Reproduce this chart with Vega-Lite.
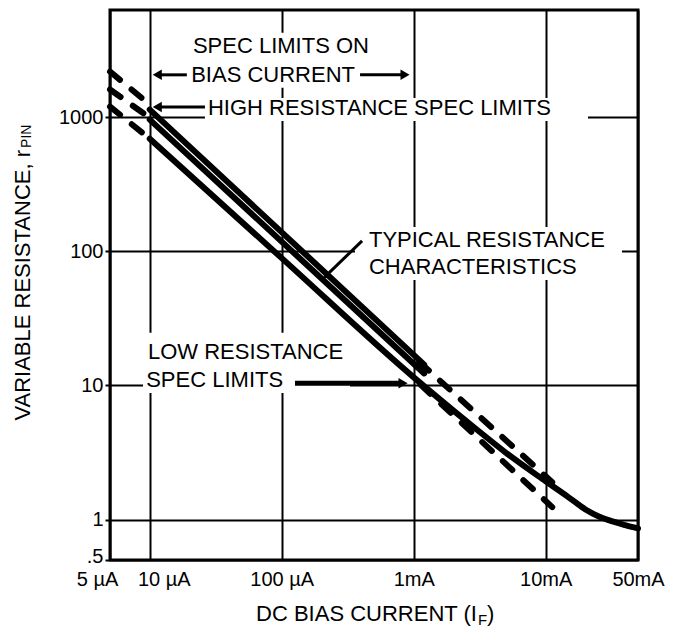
{
  "$schema": "https://vega.github.io/schema/vega-lite/v6.json",
  "width": 528,
  "height": 550,
  "autosize": {"type": "none"},
  "padding": {"left": 110, "top": 10, "right": 35, "bottom": 68},
  "background": "white",
  "config": {
    "font": "Liberation Sans",
    "view": {"stroke": "black", "strokeWidth": 3},
    "axis": {
      "gridColor": "black", "gridWidth": 2, "gridOpacity": 1,
      "domain": false, "tickColor": "black",
      "labelColor": "black", "labelFont": "Liberation Sans", "labelFontSize": 20
    }
  },
  "datasets": {
    "curves": [
      {"series": "A", "kind": "typical", "x": 10, "y": 1140},
      {"series": "A", "kind": "typical", "x": 1200, "y": 14.3},
      {"series": "B", "kind": "typical", "x": 10, "y": 960},
      {"series": "B", "kind": "typical", "x": 1200, "y": 12.3},
      {"series": "C", "kind": "typical", "x": 10, "y": 692},
      {"series": "C", "kind": "typical", "x": 100, "y": 89},
      {"series": "C", "kind": "typical", "x": 1000, "y": 11.5},
      {"series": "C", "kind": "typical", "x": 2000, "y": 6.5},
      {"series": "C", "kind": "typical", "x": 3000, "y": 4.7},
      {"series": "C", "kind": "typical", "x": 5000, "y": 3.15},
      {"series": "C", "kind": "typical", "x": 10000, "y": 1.93},
      {"series": "C", "kind": "typical", "x": 15000, "y": 1.46},
      {"series": "C", "kind": "typical", "x": 20000, "y": 1.19},
      {"series": "C", "kind": "typical", "x": 25000, "y": 1.06},
      {"series": "C", "kind": "typical", "x": 30000, "y": 0.99},
      {"series": "C", "kind": "typical", "x": 40000, "y": 0.91},
      {"series": "C", "kind": "typical", "x": 50000, "y": 0.86},
      {"series": "D1", "kind": "spec", "x": 5, "y": 2190},
      {"series": "D1", "kind": "spec", "x": 10, "y": 1240},
      {"series": "D2", "kind": "spec", "x": 5, "y": 1610},
      {"series": "D2", "kind": "spec", "x": 10, "y": 990},
      {"series": "D3", "kind": "spec", "x": 5, "y": 1200},
      {"series": "D3", "kind": "spec", "x": 10, "y": 690},
      {"series": "L1", "kind": "spec", "x": 1100, "y": 15},
      {"series": "L1", "kind": "spec", "x": 11200, "y": 1.9},
      {"series": "L2", "kind": "spec", "x": 1130, "y": 10.1},
      {"series": "L2", "kind": "spec", "x": 11200, "y": 1.24}
    ],
    "boxes": [
      {"x": 18.5, "x2": 509, "y": 4256, "y2": 1656},
      {"x": 26.2, "x2": 20900, "y": 1393, "y2": 939},
      {"x": 359, "x2": 37800, "y": 152, "y2": 61.2},
      {"x": 8.9, "x2": 329, "y": 24.7, "y2": 8.8}
    ],
    "arrowsThin": [
      {"x": 19.1, "x2": 11.4, "y": 2070, "y2": 2070},
      {"x": 392, "x2": 859, "y": 2070, "y2": 2070},
      {"x": 26.2, "x2": 11.4, "y": 1194, "y2": 1194},
      {"x": 406, "x2": 216, "y": 119.7, "y2": 65.6}
    ],
    "arrowsThick": [
      {"x": 126, "x2": 787, "y": 10.4, "y2": 10.4}
    ],
    "headsLeft": [
      {"x": 11.4, "y": 2070},
      {"x": 11.4, "y": 1194}
    ],
    "headsRight": [
      {"x": 859, "y": 2070},
      {"x": 830, "y": 10.4}
    ],
    "headDiag": [
      {"x": 216, "y": 65.6}
    ],
    "notesCenter": [
      {"x": 98.6, "y": 3404, "text": "SPEC LIMITS ON"},
      {"x": 86, "y": 2070, "text": "BIAS CURRENT"}
    ],
    "notesLeft": [
      {"x": 27.6, "y": 1175, "text": "HIGH RESISTANCE SPEC LIMITS"},
      {"x": 458, "y": 122, "text": "TYPICAL RESISTANCE"},
      {"x": 458, "y": 76.5, "text": "CHARACTERISTICS"},
      {"x": 9.7, "y": 17.8, "text": "LOW RESISTANCE"},
      {"x": 9.4, "y": 11.0, "text": "SPEC LIMITS"}
    ],
    "xTitleMain": [{"x": 3010, "y": 0.198, "text": "DC BIAS CURRENT (I"}],
    "xTitleSub": [{"x": 3070, "y": 0.179, "text": "F"}],
    "xTitleEnd": [{"x": 3590, "y": 0.198, "text": ")"}],
    "yTitleMain": [{"x": 1.087, "y": 570, "text": "VARIABLE RESISTANCE, r"}],
    "yTitleSub": [{"x": 1.18, "y": 590, "text": "PIN"}]
  },
  "encoding": {
    "x": {
      "field": "x", "type": "quantitative",
      "scale": {"type": "log", "domain": [5, 50000], "nice": false},
      "axis": {
        "title": null,
        "values": [5, 10, 100, 1000, 10000, 50000],
        "labelExpr": "datum.value == 5 ? '5 µA' : datum.value == 10 ? '10 µA' : datum.value == 100 ? '100 µA' : datum.value == 1000 ? '1mA' : datum.value == 10000 ? '10mA' : '50mA'",
        "grid": true, "tickSize": 0, "labelPadding": 9,
        "labelOffset": {"condition": [{"test": "datum.value == 5", "value": -13}, {"test": "datum.value == 10", "value": 14}], "value": 0},
        "labelFlush": false, "labelOverlap": false, "labelBound": false
      }
    },
    "y": {
      "field": "y", "type": "quantitative",
      "scale": {"type": "log", "domain": [0.5, 6300], "nice": false},
      "axis": {
        "title": null,
        "values": [0.5, 1, 10, 100, 1000],
        "labelExpr": "datum.value == 0.5 ? '.5' : format(datum.value, 'd')",
        "grid": true, "tickSize": 5, "tickWidth": 2, "labelPadding": 2,
        "labelOffset": {"condition": {"test": "datum.value == 0.5", "value": -4}, "value": 0},
        "labelFlush": false, "labelOverlap": false, "labelBound": false
      }
    }
  },
  "layer": [
    {
      "data": {"name": "boxes"},
      "mark": {"type": "rect", "color": "white", "opacity": 1},
      "encoding": {"x2": {"field": "x2"}, "y2": {"field": "y2"}}
    },
    {
      "data": {"name": "curves"},
      "transform": [{"filter": "datum.kind == 'typical'"}],
      "mark": {"type": "line", "color": "black", "strokeWidth": 6, "strokeCap": "round", "interpolate": "monotone"},
      "encoding": {"detail": {"field": "series"}}
    },
    {
      "data": {"name": "curves"},
      "transform": [{"filter": "datum.kind == 'spec'"}],
      "mark": {"type": "line", "color": "black", "strokeWidth": 6, "strokeCap": "round", "strokeDash": [13, 15]},
      "encoding": {"detail": {"field": "series"}}
    },
    {
      "data": {"name": "arrowsThin"},
      "mark": {"type": "rule", "color": "black", "strokeWidth": 3},
      "encoding": {"x2": {"field": "x2"}, "y2": {"field": "y2"}}
    },
    {
      "data": {"name": "arrowsThick"},
      "mark": {"type": "rule", "color": "black", "strokeWidth": 5},
      "encoding": {"x2": {"field": "x2"}, "y2": {"field": "y2"}}
    },
    {
      "data": {"name": "headsLeft"},
      "mark": {"type": "point", "shape": "triangle-left", "filled": true, "color": "black", "opacity": 1, "size": 110},
      "encoding": {}
    },
    {
      "data": {"name": "headsRight"},
      "mark": {"type": "point", "shape": "triangle-right", "filled": true, "color": "black", "opacity": 1, "size": 110},
      "encoding": {}
    },
    {
      "data": {"name": "headDiag"},
      "mark": {"type": "point", "shape": "triangle-down", "angle": 45, "filled": true, "color": "black", "opacity": 1, "size": 90},
      "encoding": {}
    },
    {
      "data": {"name": "notesCenter"},
      "mark": {"type": "text", "align": "center", "baseline": "middle", "fontSize": 22, "color": "black"},
      "encoding": {"text": {"field": "text"}}
    },
    {
      "data": {"name": "notesLeft"},
      "mark": {"type": "text", "align": "left", "baseline": "middle", "fontSize": 22, "color": "black"},
      "encoding": {"text": {"field": "text"}}
    },
    {
      "data": {"name": "xTitleMain"},
      "mark": {"type": "text", "align": "right", "baseline": "middle", "fontSize": 22, "color": "black"},
      "encoding": {"text": {"field": "text"}}
    },
    {
      "data": {"name": "xTitleSub"},
      "mark": {"type": "text", "align": "left", "baseline": "middle", "fontSize": 15, "color": "black"},
      "encoding": {"text": {"field": "text"}}
    },
    {
      "data": {"name": "xTitleEnd"},
      "mark": {"type": "text", "align": "left", "baseline": "middle", "fontSize": 22, "color": "black"},
      "encoding": {"text": {"field": "text"}}
    },
    {
      "data": {"name": "yTitleMain"},
      "mark": {"type": "text", "align": "right", "baseline": "middle", "angle": 270, "fontSize": 22, "color": "black"},
      "encoding": {"text": {"field": "text"}}
    },
    {
      "data": {"name": "yTitleSub"},
      "mark": {"type": "text", "align": "left", "baseline": "middle", "angle": 270, "fontSize": 14, "color": "black"},
      "encoding": {"text": {"field": "text"}}
    }
  ]
}
